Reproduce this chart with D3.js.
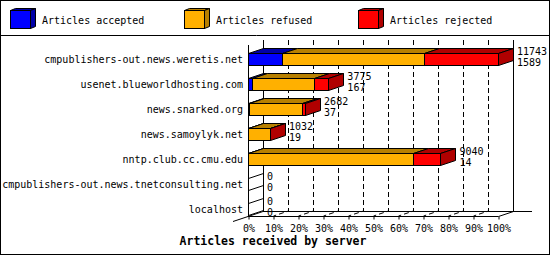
<!DOCTYPE html>
<html><head><meta charset="utf-8">
<script src="https://cdn.jsdelivr.net/npm/d3@7"></script>
<style>
html,body{margin:0;padding:0;background:#fff;}
svg{display:block;}
text{font-family:"DejaVu Sans Mono",monospace;font-size:10px;fill:#000;}
</style></head>
<body>
<script>
const categories = ["cmpublishers-out.news.weretis.net","usenet.blueworldhosting.com","news.snarked.org","news.samoylyk.net","nntp.club.cc.cmu.edu","cmpublishers-out.news.tnetconsulting.net","localhost"];
const accepted = [1589, 167, 37, 19, 14, 0, 0];
const refused  = [6698, 2945, 2518, 1008, 7718, 0, 0];
const rejected = [3456, 663, 127, 5, 1308, 0, 0];
const totals   = [11743, 3775, 2682, 1032, 9040, 0, 0];
const seriesNames = ["Articles accepted","Articles refused","Articles rejected"];
const tickLabels = ["0%","10%","20%","30%","40%","50%","60%","70%","80%","90%","100%"];
const title = "Articles received by server";

const colors = ["#0000ff","#ffb000","#ff0000"];
const dark = ["#0000a8","#b88000","#b00000"];

const W=550,H=255;
const svg=d3.select("body").append("svg").attr("width",W).attr("height",H);
svg.append("rect").attr("x",0.5).attr("y",0.5).attr("width",W-1).attr("height",H-1).attr("fill","#fff").attr("stroke","#000");
svg.append("line").attr("x1",0).attr("x2",W).attr("y1",35.5).attr("y2",35.5).attr("stroke","#000");

// legend
seriesNames.forEach((n,i)=>{
  const g=svg.append("g").attr("transform",`translate(${10+174*i},0)`);
  g.append("polygon").attr("points","0.5,10.5 5.5,8.5 25.5,8.5 20.5,10.5").attr("fill",dark[i]).attr("stroke","#000");
  g.append("polygon").attr("points","20.5,10.5 25.5,8.5 25.5,26.5 20.5,28.5").attr("fill",dark[i]).attr("stroke","#000");
  g.append("rect").attr("x",0.5).attr("y",10.5).attr("width",20).attr("height",18).attr("fill",colors[i]).attr("stroke","#000");
  g.append("text").attr("x",32).attr("y",24).text(n);
});

const X0=248, X1=498, DX=15, DY=5, TOP=40, FLOOR=216;
const x=d3.scaleLinear().domain([0,d3.max(totals)]).range([X0,X1]);
const xp=d3.scaleLinear().domain([0,100]).range([X0,X1]);
const y=d3.scaleBand().domain(categories).range([46.5,221.5]);
const BH=12;

const grid=svg.append("g");
d3.range(10,100,10).forEach(p=>{
  const fx=Math.round(xp(p))+0.5, bx=fx+DX;
  grid.append("polyline").attr("points",`${bx},${TOP} ${bx},${FLOOR-DY} ${fx},${FLOOR}`)
    .attr("fill","none").attr("stroke","#000").attr("stroke-dasharray","5,3");
});
grid.append("line").attr("x1",X0+DX+0.5).attr("x2",X0+DX+0.5).attr("y1",TOP).attr("y2",FLOOR-DY).attr("stroke","#000");
grid.append("line").attr("x1",X1+DX+0.5).attr("x2",X1+DX+0.5).attr("y1",TOP).attr("y2",FLOOR-DY).attr("stroke","#000");
grid.append("line").attr("x1",X0+DX).attr("x2",532).attr("y1",FLOOR-DY+0.5).attr("y2",FLOOR-DY+0.5).attr("stroke","#000");
grid.append("line").attr("x1",233).attr("y1",FLOOR+5.5).attr("x2",X0+DX).attr("y2",FLOOR-DY+0.5).attr("stroke","#000");
grid.append("line").attr("x1",X0).attr("x2",X1+0.5).attr("y1",FLOOR+0.5).attr("y2",FLOOR+0.5).attr("stroke","#000");
grid.append("line").attr("x1",X1+0.5).attr("y1",FLOOR+0.5).attr("x2",X1+DX+0.5).attr("y2",FLOOR-DY+0.5).attr("stroke","#000");
grid.append("line").attr("x1",X0+0.5).attr("x2",X0+0.5).attr("y1",TOP+DY).attr("y2",FLOOR).attr("stroke","#000");

const bars=svg.append("g");
categories.forEach((c,i)=>{
  const top=Math.round(y(c)+(y.bandwidth()-BH)/2)+0.5, bot=top+BH;
  const vals=[accepted[i],refused[i],rejected[i]];
  let cum=0, last=-1;
  if(totals[i]===0){
    bars.append("line").attr("x1",X0+0.5).attr("y1",top).attr("x2",X0+DX+0.5).attr("y2",top-DY).attr("stroke","#000");
    bars.append("line").attr("x1",X0+0.5).attr("y1",bot).attr("x2",X0+DX+0.5).attr("y2",bot-DY).attr("stroke","#000");
  } else {
    vals.forEach((v,k)=>{
      if(v<=0) return;
      const xa=Math.round(x(cum))+0.5, xb=Math.round(x(cum+v))+0.5;
      cum+=v; last=k;
      bars.append("polygon").attr("points",`${xa},${top} ${xa+DX},${top-DY} ${xb+DX},${top-DY} ${xb},${top}`)
        .attr("fill",dark[k]).attr("stroke","#000");
      bars.append("rect").attr("x",xa).attr("y",top).attr("width",Math.max(0,xb-xa)).attr("height",BH)
        .attr("fill",colors[k]).attr("stroke","#000");
    });
    const xe=Math.round(x(cum))+0.5;
    bars.append("polygon").attr("points",`${xe},${top} ${xe+DX},${top-DY} ${xe+DX},${bot-DY} ${xe},${bot}`)
      .attr("fill",dark[last]).attr("stroke","#000");
  }
  const lx=x(totals[i])+DX+4;
  svg.append("text").attr("x",lx).attr("y",top+1).text(totals[i]);
  svg.append("text").attr("x",lx).attr("y",bot).text(accepted[i]);
  svg.append("text").attr("x",243).attr("y",top+BH/2+3.5).attr("text-anchor","end").text(c);
});

const ax=svg.append("g").attr("transform",`translate(0.5,${FLOOR+0.5})`)
  .call(d3.axisBottom(xp).tickValues(d3.range(0,101,10)).tickFormat((d,i)=>tickLabels[i]).tickSize(3).tickPadding(0));
ax.select(".domain").remove();
ax.selectAll(".tick line").attr("stroke","#000");
ax.selectAll(".tick text").attr("y",15.5).attr("dy",0).attr("fill","#000");
ax.attr("font-family",null).attr("font-size",null);

svg.append("text").attr("x",273).attr("y",245).attr("text-anchor","middle")
  .style("font-weight","bold").style("font-size","11.5px").text(title);
</script>
</body></html>
